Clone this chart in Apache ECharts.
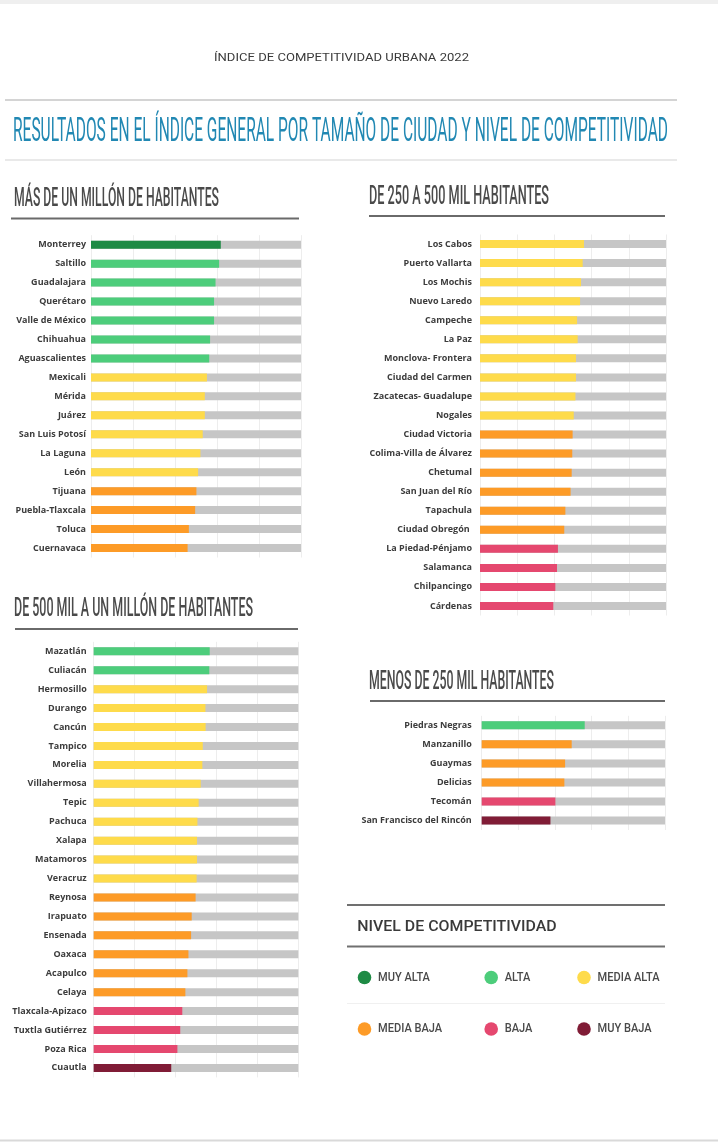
<!DOCTYPE html>
<html>
<head>
<meta charset="utf-8">
<title>Índice de Competitividad Urbana 2022</title>
<script src="https://cdn.jsdelivr.net/npm/echarts@6/dist/echarts.min.js"></script>
<style>
  html, body { margin: 0; padding: 0; background: #fff; }
  #main { width: 718px; height: 1142px; }
</style>
</head>
<body>
<div id="main"></div>
<script>
// niveles de competitividad (indice -> nombre / color)
var nivelesNombre = ['MUY ALTA', 'ALTA', 'MEDIA ALTA', 'MEDIA BAJA', 'BAJA', 'MUY BAJA'];
var nivelesColor = ['#1e8b45', '#4dcd7b', '#fedb4b', '#fd9b27', '#e5486f', '#801c36'];

// más de un millón de habitantes
var ciudades1 = ['Monterrey', 'Saltillo', 'Guadalajara', 'Querétaro', 'Valle de México', 'Chihuahua',
  'Aguascalientes', 'Mexicali', 'Mérida', 'Juárez', 'San Luis Potosí', 'La Laguna', 'León', 'Tijuana',
  'Puebla-Tlaxcala', 'Toluca', 'Cuernavaca'];
var valores1 = [61.8, 61.0, 59.3, 58.6, 58.6, 56.7, 56.3, 55.2, 54.2, 54.2, 53.2, 52.1, 51.0, 50.2, 49.6, 46.6, 46.0];
var niveles1 = [0, 1, 1, 1, 1, 1, 1, 2, 2, 2, 2, 2, 2, 3, 3, 3, 3];

// de 250 a 500 mil habitantes
var ciudades2 = ['Los Cabos', 'Puerto Vallarta', 'Los Mochis', 'Nuevo Laredo', 'Campeche', 'La Paz',
  'Monclova- Frontera', 'Ciudad del Carmen', 'Zacatecas- Guadalupe', 'Nogales', 'Ciudad Victoria',
  'Colima-Villa de Álvarez', 'Chetumal', 'San Juan del Río', 'Tapachula', 'Ciudad Obregón ',
  'La Piedad-Pénjamo', 'Salamanca', 'Chilpancingo', 'Cárdenas'];
var valores2 = [55.9, 55.2, 54.3, 53.8, 52.2, 52.5, 51.6, 51.6, 51.3, 50.4, 49.8, 49.6, 49.3, 48.7, 45.9, 45.3, 41.9, 41.4, 40.5, 39.4];
var niveles2 = [2, 2, 2, 2, 2, 2, 2, 2, 2, 2, 3, 3, 3, 3, 3, 3, 4, 4, 4, 4];

// de 500 mil a un millón de habitantes
var ciudades3 = ['Mazatlán', 'Culiacán', 'Hermosillo', 'Durango', 'Cancún', 'Tampico', 'Morelia',
  'Villahermosa', 'Tepic', 'Pachuca', 'Xalapa', 'Matamoros', 'Veracruz', 'Reynosa', 'Irapuato',
  'Ensenada', 'Oaxaca', 'Acapulco', 'Celaya', 'Tlaxcala-Apizaco', 'Tuxtla Gutiérrez', 'Poza Rica', 'Cuautla'];
var valores3 = [56.7, 56.5, 55.4, 54.6, 54.7, 53.3, 53.1, 52.3, 51.3, 50.7, 50.5, 50.5, 50.3, 49.8, 47.9,
  47.6, 46.3, 45.8, 44.8, 43.3, 42.3, 40.9, 37.9];
var niveles3 = [1, 1, 2, 2, 2, 2, 2, 2, 2, 2, 2, 2, 2, 3, 3, 3, 3, 3, 3, 4, 4, 4, 5];

// menos de 250 mil habitantes
var ciudades4 = ['Piedras Negras', 'Manzanillo', 'Guaymas', 'Delicias', 'Tecomán', 'San Francisco del Rincón'];
var valores4 = [56.2, 49.1, 45.5, 45.1, 40.2, 37.5];
var niveles4 = [1, 3, 3, 3, 4, 5];

var ejeMin = 0;
var ejeMax = 100;
var ejeIntervalo = 20;

var paneles = [
  { ciudades: ciudades1, valores: valores1, niveles: niveles1, left: 91, width: 210, top: 235.2, height: 322.3, margen: 5 },
  { ciudades: ciudades2, valores: valores2, niveles: niveles2, left: 480, width: 186, top: 234.5, height: 381, margen: 8 },
  { ciudades: ciudades3, valores: valores3, niveles: niveles3, left: 93.7, width: 204.6, top: 641.8, height: 435.6, margen: 7 },
  { ciudades: ciudades4, valores: valores4, niveles: niveles4, left: 481.7, width: 183.3, top: 715.8, height: 114.2, margen: 10 }
];

// medir texto para comprimirlo al ancho del original
var ctx = document.createElement('canvas').getContext('2d');
function escala(texto, fuente, ancho) {
  ctx.font = fuente;
  return ancho / ctx.measureText(texto).width;
}
function texto(t, x, y, ancho, size, weight, color, align) {
  var fuente = weight + ' ' + size + 'px Roboto';
  return {
    type: 'text', x: x, y: y, scaleX: escala(t, fuente, ancho), silent: true,
    style: { text: t, font: fuente, fill: color, align: align || 'left', verticalAlign: 'middle' }
  };
}
function linea(x1, x2, y, color, w) {
  return { type: 'line', silent: true, shape: { x1: x1, y1: y, x2: x2, y2: y }, style: { stroke: color, lineWidth: w } };
}

var grids = [], xAxes = [], yAxes = [], series = [];
paneles.forEach(function (p, i) {
  grids.push({ left: p.left, width: p.width, top: p.top, height: p.height, containLabel: false, outerBoundsMode: 'none' });
  xAxes.push({
    type: 'value', gridIndex: i, min: ejeMin, max: ejeMax, interval: ejeIntervalo,
    axisLabel: { show: false }, axisTick: { show: false }, axisLine: { show: false },
    splitLine: { show: true, lineStyle: { color: '#ededed', width: 1 } }
  });
  yAxes.push({
    type: 'category', gridIndex: i, data: p.ciudades, inverse: true,
    axisLine: { show: false }, axisTick: { show: false },
    axisLabel: { color: '#3c3c3c', fontFamily: 'Open Sans', fontWeight: 'bold', fontSize: 9, margin: p.margen }
  });
  series.push({
    type: 'bar', xAxisIndex: i, yAxisIndex: i, barWidth: 8, silent: true,
    showBackground: true, backgroundStyle: { color: '#c6c6c6' },
    data: p.valores.map(function (v, k) {
      return { value: v, itemStyle: { color: nivelesColor[p.niveles[k]] } };
    })
  });
});

var azul = '#2188b3';
var gris = '#4a4a4a';
var graficos = [
  { type: 'rect', silent: true, shape: { x: 0, y: 0, width: 718, height: 4 }, style: { fill: '#efefef' } },
  linea(0, 718, 1140.5, '#d9d9d9', 2),
  texto('ÍNDICE DE COMPETITIVIDAD URBANA 2022', 214, 58, 255, 10, 'normal', '#3a3a3a'),
  linea(5, 677, 100, '#d4d4d4', 2),
  texto('RESULTADOS EN EL ÍNDICE GENERAL POR TAMAÑO DE CIUDAD Y NIVEL DE COMPETITIVIDAD', 13, 133, 655, 33, 'normal', azul),
  linea(5, 677, 160, '#e2e2e2', 1.5),
  texto('MÁS DE UN MILLÓN DE HABITANTES', 14, 200, 205, 25, '500', gris),
  linea(11, 299, 218.5, '#6a6a6a', 2),
  texto('DE 250 A 500 MIL HABITANTES', 369, 198, 180, 25, '500', gris),
  linea(369, 665, 216, '#6a6a6a', 2),
  texto('DE 500 MIL A UN MILLÓN DE HABITANTES', 14, 610, 239, 25, '500', gris),
  linea(15, 298, 629, '#6a6a6a', 2),
  texto('MENOS DE 250 MIL HABITANTES', 369, 682.5, 185, 25, '500', gris),
  linea(370, 665, 701, '#6a6a6a', 2),
  // cuadro de niveles
  linea(347, 665, 905, '#707070', 2),
  texto('NIVEL DE COMPETITIVIDAD', 357.3, 927, 199.4, 15, '500', '#3a3a3a'),
  linea(347, 665, 946.5, '#707070', 2),
  linea(347, 665, 1003.5, '#f0f0f0', 1)
];

var colX = [364.5, 491.2, 584];
var filaY = [977.5, 1029];
var escalaLeyenda = escala('MEDIA ALTA', '500 12.5px Roboto', 62);
nivelesNombre.forEach(function (n, i) {
  var cx = colX[i % 3], cy = filaY[Math.floor(i / 3)];
  graficos.push({ type: 'circle', silent: true, shape: { cx: cx, cy: cy, r: 6.8 }, style: { fill: nivelesColor[i] } });
  graficos.push({
    type: 'text', x: cx + 13.5, y: cy, scaleX: escalaLeyenda, silent: true,
    style: { text: n, font: '500 12.5px Roboto', fill: gris, align: 'left', verticalAlign: 'middle' }
  });
});

var chart = echarts.init(document.getElementById('main'), null, { renderer: 'canvas' });
chart.setOption({
  backgroundColor: '#ffffff',
  animation: false,
  grid: grids,
  xAxis: xAxes,
  yAxis: yAxes,
  series: series,
  graphic: { elements: graficos }
});
</script>
</body>
</html>
